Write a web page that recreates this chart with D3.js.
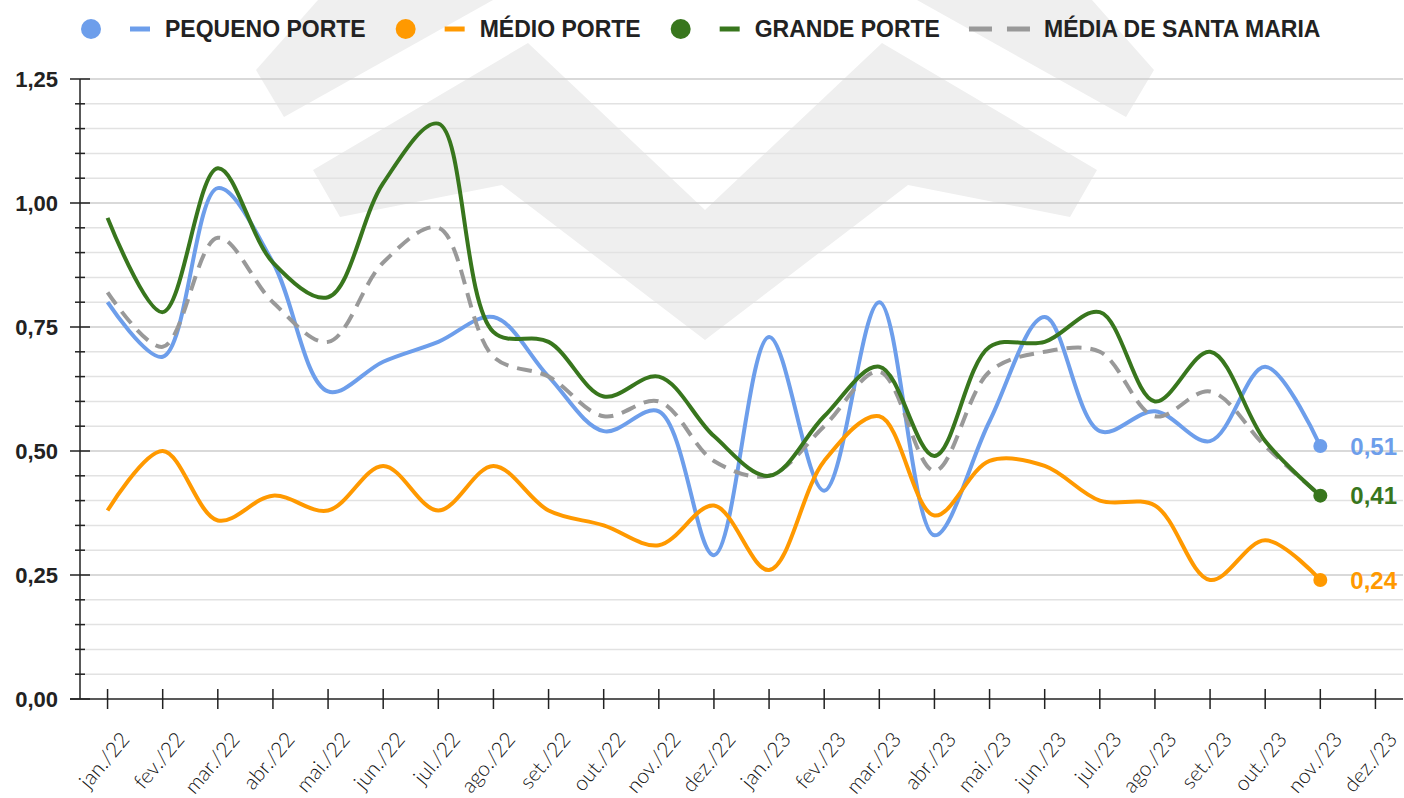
<!DOCTYPE html>
<html lang="pt">
<head>
<meta charset="UTF-8">
<title>Porte</title>
<script src="https://d3js.org/d3.v7.min.js"></script>
<style>
  body { margin: 0; background: #fff; }
  svg { display: block; }
</style>
</head>
<body>
<script>
// meses (eixo x)
var meses = ["jan./22","fev./22","mar./22","abr./22","mai./22","jun./22","jul./22","ago./22","set./22","out./22","nov./22","dez./22",
             "jan./23","fev./23","mar./23","abr./23","mai./23","jun./23","jul./23","ago./23","set./23","out./23","nov./23","dez./23"];

// séries
var pequeno = [0.80,0.69,1.03,0.88,0.62,0.68,0.72,0.77,0.65,0.54,0.58,0.29,0.73,0.42,0.80,0.33,0.56,0.77,0.54,0.58,0.52,0.67,0.51];
var medio   = [0.38,0.50,0.36,0.41,0.38,0.47,0.38,0.47,0.38,0.35,0.31,0.39,0.26,0.48,0.57,0.37,0.48,0.47,0.40,0.39,0.24,0.32,0.24];
var grande  = [0.97,0.78,1.07,0.88,0.81,1.04,1.16,0.74,0.72,0.61,0.65,0.53,0.45,0.57,0.67,0.49,0.71,0.72,0.78,0.60,0.70,0.52,0.41];
var mediaSM = [0.82,0.71,0.93,0.80,0.72,0.88,0.95,0.69,0.65,0.57,0.60,0.48,0.45,0.55,0.66,0.46,0.66,0.70,0.70,0.57,0.62,0.51,0.41];

var yTicks = [0, 0.25, 0.5, 0.75, 1, 1.25];

var series = [
  {nome: "PEQUENO PORTE", valores: pequeno, cor: "#6d9eeb", ponto: true},
  {nome: "MÉDIO PORTE", valores: medio, cor: "#ff9900", ponto: true},
  {nome: "GRANDE PORTE", valores: grande, cor: "#38761d", ponto: true},
  {nome: "MÉDIA DE SANTA MARIA", valores: mediaSM, cor: "#999999", ponto: false, tracejado: true}
];

var width = 1404, height = 798;
var esq = 80, dir = 1403, topo = 79, base = 699;
var fonte = "'Liberation Sans', Arial, sans-serif";

var svg = d3.select("body").append("svg")
    .attr("width", width)
    .attr("height", height);

// marca d'água (logo ao fundo)
var marca = svg.append("g").attr("fill", "#efefef");
var cima = [[256,70],[318,0],[493,0],[284,117]];
marca.append("polygon").attr("points", cima.map(function(p){ return p.join(","); }).join(" "));
marca.append("polygon").attr("points", cima.map(function(p){ return [1410 - p[0], p[1]].join(","); }).join(" "));
var meio = [[313,170],[528,43],[705,210],[882,43],[1097,170],[1070,217],[908,185],[705,340],[502,185],[340,217]];
marca.append("polygon").attr("points", meio.map(function(p){ return p.join(","); }).join(" "));

var x = d3.scaleBand().domain(meses).range([esq, dir]);
var y = d3.scaleLinear().domain([0, 1.25]).range([base, topo]);
function cx(i) { return x(meses[i]) + x.bandwidth() / 2; }

// grade
var linhas = d3.range(1, 26).map(function(k){ return k * 0.05; });
svg.append("g").selectAll("line").data(linhas).enter().append("line")
    .attr("x1", esq).attr("x2", dir)
    .attr("y1", function(d){ return y(d); }).attr("y2", function(d){ return y(d); })
    .attr("stroke", function(d, i){ return (i + 1) % 5 === 0 ? "#cccccc" : "#e2e2e2"; })
    .attr("stroke-width", 1.5);

// eixo y
var eixoY = svg.append("g");
eixoY.append("line").attr("x1", esq).attr("x2", esq).attr("y1", topo).attr("y2", base)
    .attr("stroke", "#222").attr("stroke-width", 1.5);
eixoY.selectAll("line.menor").data(linhas.filter(function(d, i){ return (i + 1) % 5 !== 0; })).enter().append("line")
    .attr("x1", esq - 5).attr("x2", esq + 5)
    .attr("y1", function(d){ return y(d); }).attr("y2", function(d){ return y(d); })
    .attr("stroke", "#222").attr("stroke-width", 1.5);
eixoY.selectAll("line.maior").data(yTicks).enter().append("line")
    .attr("x1", esq - 10).attr("x2", esq + 10)
    .attr("y1", function(d){ return y(d); }).attr("y2", function(d){ return y(d); })
    .attr("stroke", "#222").attr("stroke-width", 1.5);
eixoY.selectAll("text").data(yTicks).enter().append("text")
    .attr("x", 58).attr("y", function(d){ return y(d); })
    .attr("dy", "0.36em")
    .attr("text-anchor", "end")
    .style("font", "bold 22px " + fonte)
    .attr("fill", "#222")
    .text(function(d){ return d3.format(".2f")(d).replace(".", ","); });

// eixo x
var eixoX = svg.append("g");
eixoX.append("line").attr("x1", 70).attr("x2", dir).attr("y1", base).attr("y2", base)
    .attr("stroke", "#222").attr("stroke-width", 1.5);
eixoX.selectAll("line.t").data(meses).enter().append("line")
    .attr("x1", function(d){ return x(d) + x.bandwidth() / 2; })
    .attr("x2", function(d){ return x(d) + x.bandwidth() / 2; })
    .attr("y1", base - 10).attr("y2", base + 10)
    .attr("stroke", "#222").attr("stroke-width", 1.5);
eixoX.selectAll("text").data(meses).enter().append("text")
    .attr("transform", function(d){ return "translate(" + (x(d) + x.bandwidth() / 2 + 23) + "," + 740 + ") rotate(-50)"; })
    .attr("text-anchor", "end")
    .style("font-family", "Lato, Roboto, sans-serif")
    .style("font-weight", 300)
    .style("font-size", "21px")
    .attr("fill", "#111")
    .text(function(d){ return d; });

// linhas
var linha = d3.line()
    .x(function(d, i){ return cx(i); })
    .y(function(d){ return y(d); })
    .curve(d3.curveCatmullRom.alpha(0.5));

var ordem = [series[0], series[1], series[3], series[2]];
svg.append("g").selectAll("path").data(ordem).enter().append("path")
    .attr("d", function(s){ return linha(s.valores); })
    .attr("fill", "none")
    .attr("stroke", function(s){ return s.cor; })
    .attr("stroke-width", 4)
    .attr("stroke-dasharray", function(s){ return s.tracejado ? "15,9" : null; })
    .attr("stroke-linejoin", "round");

// ponto final e rótulo
var finais = series.filter(function(s){ return s.ponto; });
svg.append("g").selectAll("circle").data(finais).enter().append("circle")
    .attr("cx", function(s){ return cx(s.valores.length - 1); })
    .attr("cy", function(s){ return y(s.valores[s.valores.length - 1]); })
    .attr("r", 7)
    .attr("fill", function(s){ return s.cor; });
svg.append("g").selectAll("text").data(finais).enter().append("text")
    .attr("x", function(s){ return cx(s.valores.length - 1) + 30; })
    .attr("y", function(s){ return y(s.valores[s.valores.length - 1]); })
    .attr("dy", "0.36em")
    .style("font", "bold 24px " + fonte)
    .attr("fill", function(s){ return s.cor; })
    .text(function(s){ return d3.format(".2f")(s.valores[s.valores.length - 1]).replace(".", ","); });

// legenda
var legenda = svg.append("g");
var lx = 80, ly = 29;
series.forEach(function(s){
    if (s.ponto) {
        legenda.append("circle").attr("cx", lx + 11).attr("cy", ly).attr("r", 10).attr("fill", s.cor);
        legenda.append("line").attr("x1", lx + 50).attr("x2", lx + 70).attr("y1", ly).attr("y2", ly)
            .attr("stroke", s.cor).attr("stroke-width", 5);
        lx += 85;
    } else {
        legenda.append("line").attr("x1", lx).attr("x2", lx + 61).attr("y1", ly).attr("y2", ly)
            .attr("stroke", s.cor).attr("stroke-width", 5).attr("stroke-dasharray", "23,15");
        lx += 75;
    }
    var t = legenda.append("text").attr("x", lx).attr("y", ly).attr("dy", "0.36em")
        .style("font", "bold 23px " + fonte).attr("fill", "#222").text(s.nome);
    lx += t.node().getComputedTextLength() + 29;
});
</script>
</body>
</html>
